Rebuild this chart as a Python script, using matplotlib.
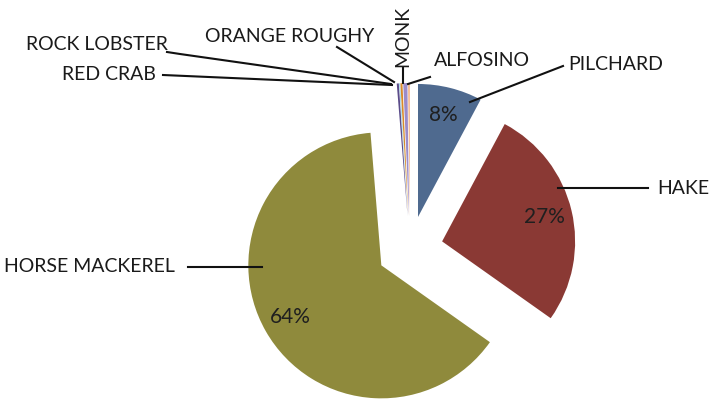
import matplotlib
matplotlib.use("Agg")
import matplotlib.pyplot as plt

plt.rcParams['font.family'] = ['Lato', 'DejaVu Sans']

# data
species = ['PILCHARD', 'HAKE', 'HORSE MACKEREL', 'RED CRAB', 'ROCK LOBSTER',
           'ORANGE ROUGHY', 'MONK', 'ALFOSINO']
share = [7.8, 27.0, 63.9, 0.25, 0.1, 0.25, 0.5, 0.2]
colours = ['#4f6a8f', '#8a3934', '#8f8a3c', '#5b4c8a', '#8ecfe0',
           '#d98a2a', '#9b8bc9', '#f4b183']

W, H = 720, 403


def Y(y):
    # image pixel row -> axes y (y axis points up)
    return H - y


fig = plt.figure(figsize=(W / 100, H / 100), dpi=100)
ax = fig.add_axes([0, 0, 1, 1])

# explode is in data units here (pixels), not a fraction of the radius
wedges, texts, autotexts = ax.pie(
    share, colors=colours, startangle=90, counterclock=False,
    center=(410, Y(249)), radius=133, explode=[33] * len(share),
    autopct=lambda p: f'{p:.0f}%' if p > 5 else '', pctdistance=0.79,
    wedgeprops=dict(linewidth=0), textprops=dict(fontsize=15, color='#1f1f1f'))

ax.set_xlim(0, W)
ax.set_ylim(0, H)
ax.set_aspect('equal')
ax.axis('off')

# label text position, alignment and leader line (image pixels)
labels = {
    'PILCHARD': ((568, 65), 'left', [(563, 66), (470, 102)]),
    'HAKE': ((657, 188), 'left', [(648, 188), (558, 188)]),
    'HORSE MACKEREL': ((4, 267), 'left', [(188, 267), (262, 267)]),
    'RED CRAB': ((62, 75), 'left', [(163, 75), (392, 85)]),
    'ROCK LOBSTER': ((26, 45), 'left', [(167, 52), (180, 54), (391, 84)]),
    'ORANGE ROUGHY': ((205, 37), 'left', [(337, 47), (394, 82)]),
    'ALFOSINO': ((434, 60), 'left', [(430, 77), (408, 84)]),
}
for name, ((tx, ty), ha, pts) in labels.items():
    ax.text(tx, Y(ty), name, fontsize=14, ha=ha, va='center', color='#1a1a1a')
    ax.plot([p[0] for p in pts], [Y(p[1]) for p in pts], color='#111111', lw=1.5)

# MONK is written vertically
ax.text(403, Y(36), 'MONK', fontsize=14, rotation=90, ha='center', va='center',
        color='#1a1a1a')
ax.plot([403, 403], [Y(68), Y(83)], color='#111111', lw=1.5)

fig.savefig('out.png', dpi=100)
